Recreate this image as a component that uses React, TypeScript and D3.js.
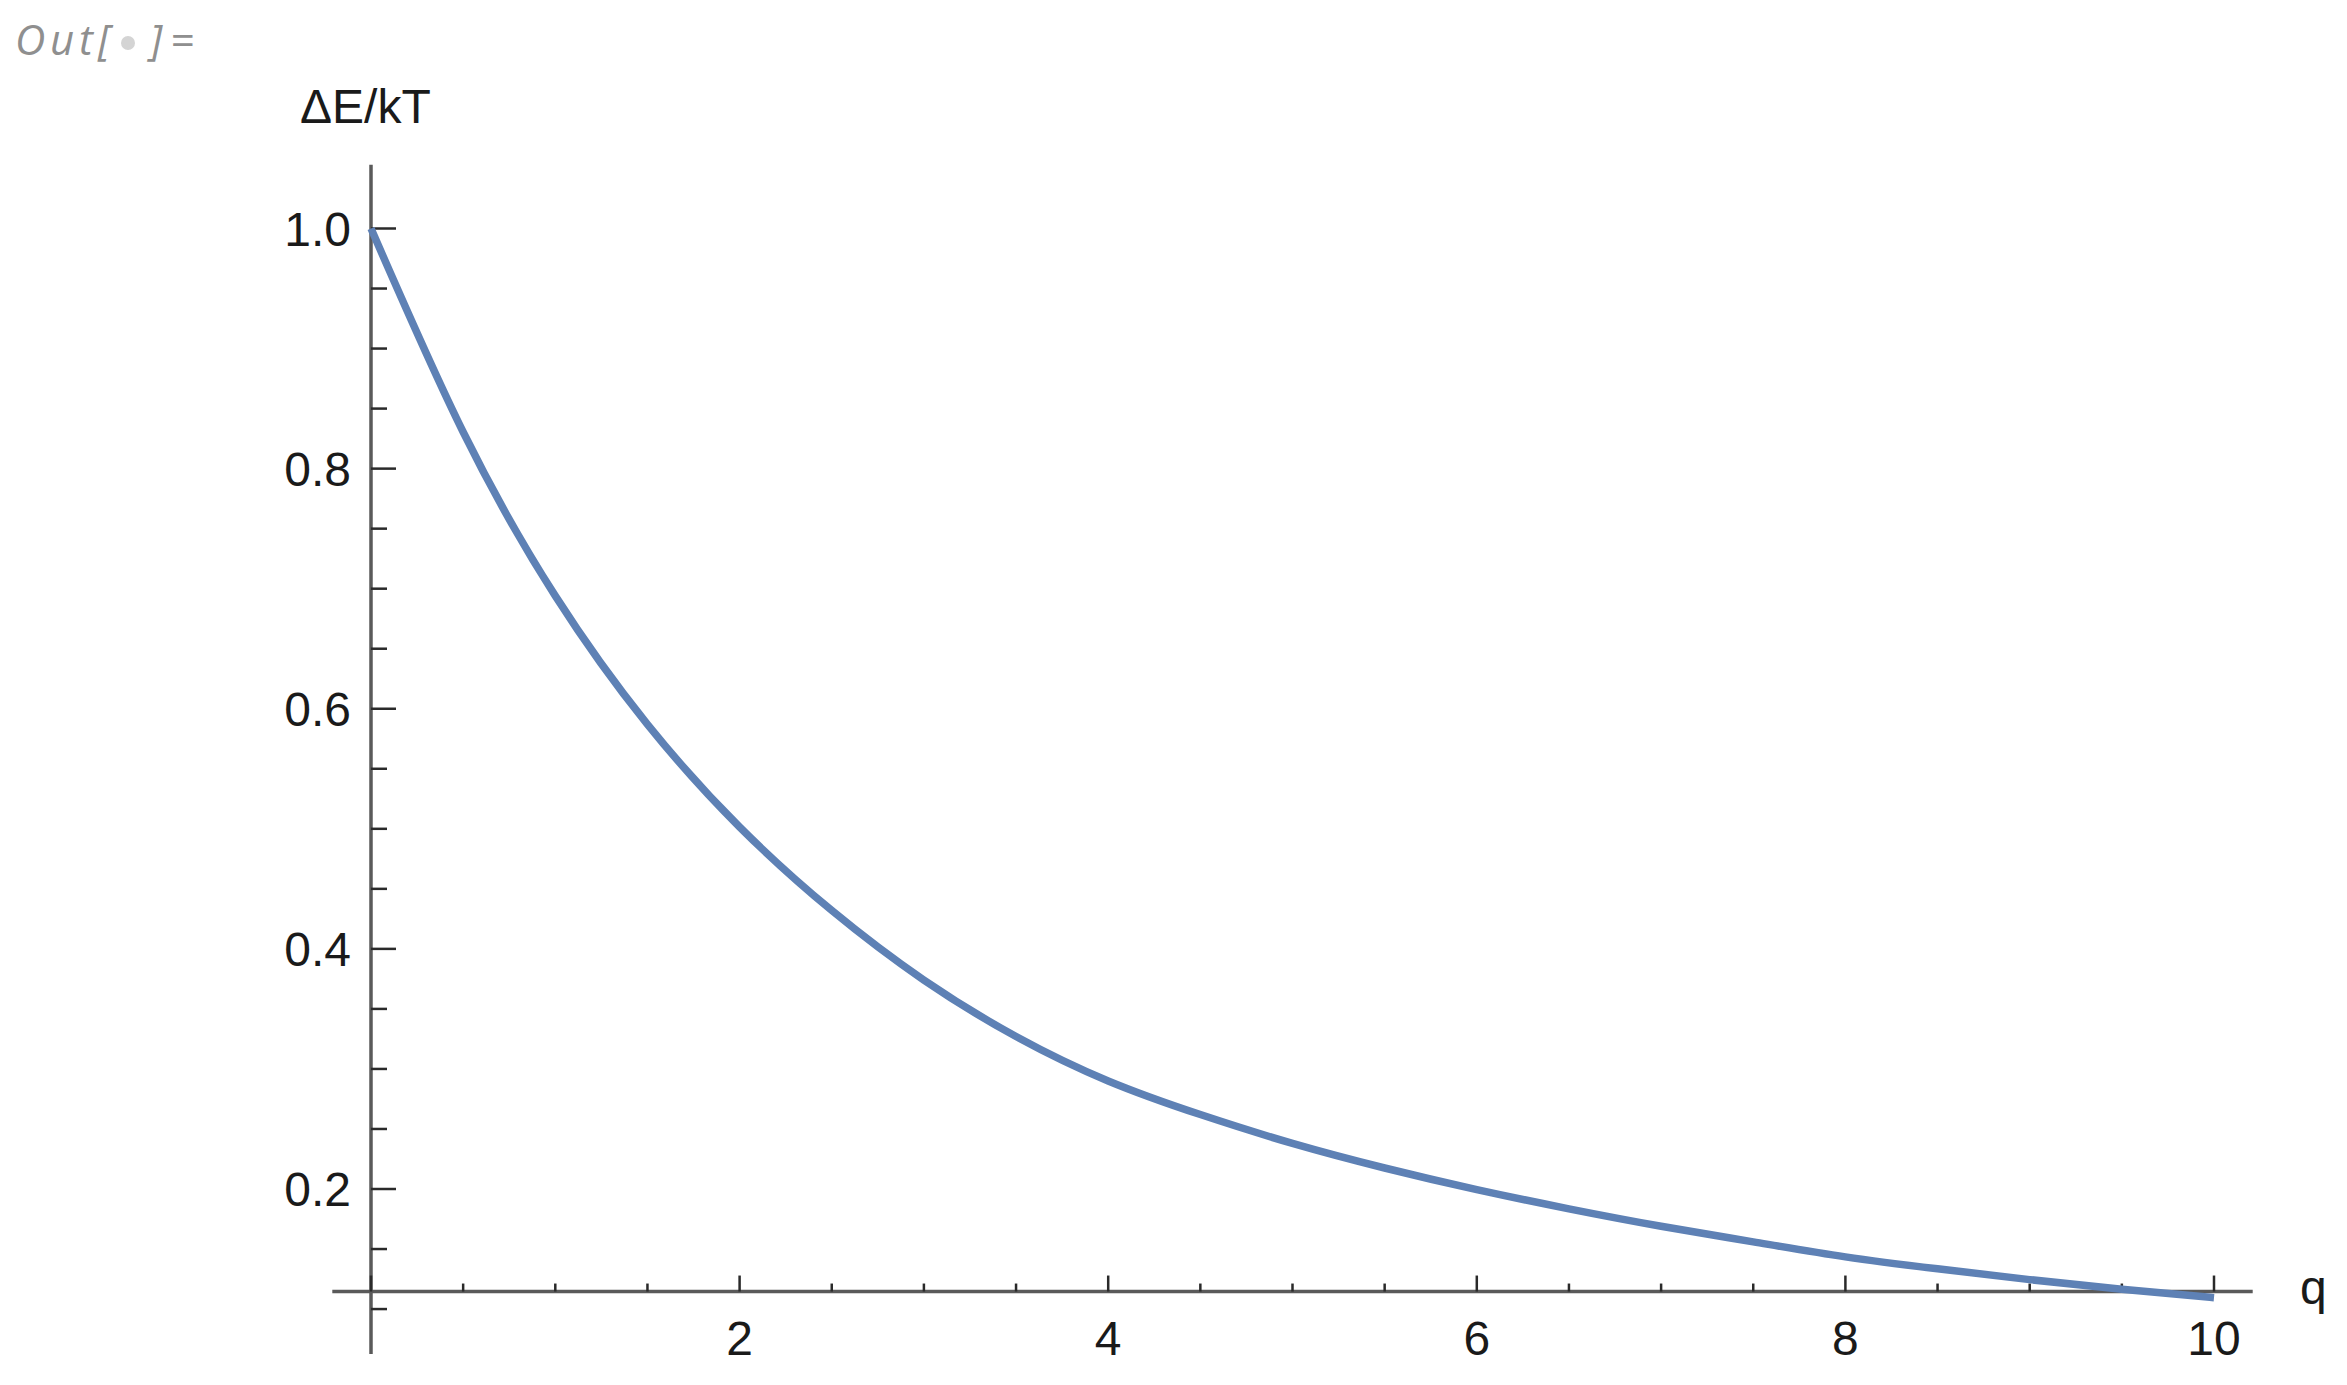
import * as d3 from 'd3';
import { useEffect } from 'react';

// values
const qValues = [0, 0.5, 1, 1.5, 2, 2.5, 3, 3.5, 4, 4.5, 5, 5.5, 6, 6.5, 7, 7.5, 8, 8.5, 9, 9.5, 10];
const energyValues = [1.0, 0.8305, 0.694, 0.587, 0.5015, 0.432, 0.374, 0.327, 0.29, 0.262, 0.238, 0.2175, 0.1995, 0.1835, 0.169, 0.156, 0.1435, 0.1335, 0.1245, 0.1165, 0.1095];

const xTicks = [2, 4, 6, 8, 10];
const yTicks = [0.2, 0.4, 0.6, 0.8, 1.0];

const xAxisRange = [-0.21, 10.21];
const yAxisRange = [0.0625, 1.053];
const axisCrossY = 0.1146;

export default function App() {
    useEffect(() => {
        document.body.style.margin = '0';
        document.body.style.overflow = 'hidden';
    }, []);

    const width = 2347;
    const height = 1385;

    const x = d3.scaleLinear().domain([0, 10]).range([371, 2214]);
    const y = d3.scaleLinear().domain([0.2, 1.0]).range([1189, 228.5]);

    const data = qValues.map((q, i) => ({ q, v: energyValues[i] }));
    const line = d3.line<{ q: number; v: number }>()
        .x(d => x(d.q))
        .y(d => y(d.v))
        .curve(d3.curveNatural);

    const xMinor = d3.range(0.5, 10, 0.5).filter(t => t % 2 !== 0);
    const yMinor = d3.range(0.1, 1.0, 0.05)
        .map(t => Math.round(t * 100) / 100)
        .filter(t => Math.round(t * 100) % 20 !== 0);

    const x0 = x(0);
    const yAxisPos = y(axisCrossY);
    const font = '"Liberation Sans", Arial, sans-serif';
    const tickColor = '#2a2a2a';

    return (
        <svg width={width} height={height} style={{ position: 'absolute', left: 0, top: 0, background: '#fff' }}>
            {/* notebook output label */}
            <g fontFamily='"Open Sans", sans-serif' fontStyle="italic" fill="#8f8f8f" fontSize={42}>
                <text x={15} y={55} textLength={95}>Out[</text>
                <circle cx={128} cy={43} r={7} fill="#d4d4d4" />
                <text x={150} y={55} textLength={44}>]=</text>
            </g>

            {/* axes */}
            <line x1={x(xAxisRange[0])} x2={x(xAxisRange[1])} y1={yAxisPos} y2={yAxisPos} stroke="#5a5a5a" strokeWidth={3.5} />
            <line x1={x0} x2={x0} y1={y(yAxisRange[1])} y2={y(yAxisRange[0])} stroke="#5a5a5a" strokeWidth={3.5} />

            {/* y ticks */}
            {yTicks.map(t => (
                <g key={'yt' + t}>
                    <line x1={x0} x2={x0 + 25} y1={y(t)} y2={y(t)} stroke={tickColor} strokeWidth={2.5} />
                    <text x={x0 - 20} y={y(t) + 17} textAnchor="end" fontFamily={font} fontSize={48} fill="#1a1a1a">
                        {t.toFixed(1)}
                    </text>
                </g>
            ))}
            {yMinor.map(t => (
                <line key={'ym' + t} x1={x0} x2={x0 + 16} y1={y(t)} y2={y(t)} stroke={tickColor} strokeWidth={2.5} />
            ))}

            {/* x ticks */}
            <line x1={x0} x2={x0} y1={yAxisPos} y2={yAxisPos - 16} stroke={tickColor} strokeWidth={2.5} />
            {xTicks.map(t => (
                <g key={'xt' + t}>
                    <line x1={x(t)} x2={x(t)} y1={yAxisPos} y2={yAxisPos - 16} stroke={tickColor} strokeWidth={2.5} />
                    <text x={x(t)} y={1355} textAnchor="middle" fontFamily={font} fontSize={48} fill="#1a1a1a">
                        {t}
                    </text>
                </g>
            ))}
            {xMinor.map(t => (
                <line key={'xm' + t} x1={x(t)} x2={x(t)} y1={yAxisPos} y2={yAxisPos - 8} stroke={tickColor} strokeWidth={2.5} />
            ))}

            {/* axis labels */}
            <text x={300} y={123} fontFamily={font} fontSize={48} fill="#1a1a1a">ΔE/kT</text>
            <text x={2300} y={1304} fontFamily={font} fontSize={48} fill="#1a1a1a">q</text>

            {/* curve */}
            <path d={line(data) ?? ''} fill="none" stroke="#5E81B5" strokeWidth={7.5} strokeLinecap="butt" />
        </svg>
    );
}
